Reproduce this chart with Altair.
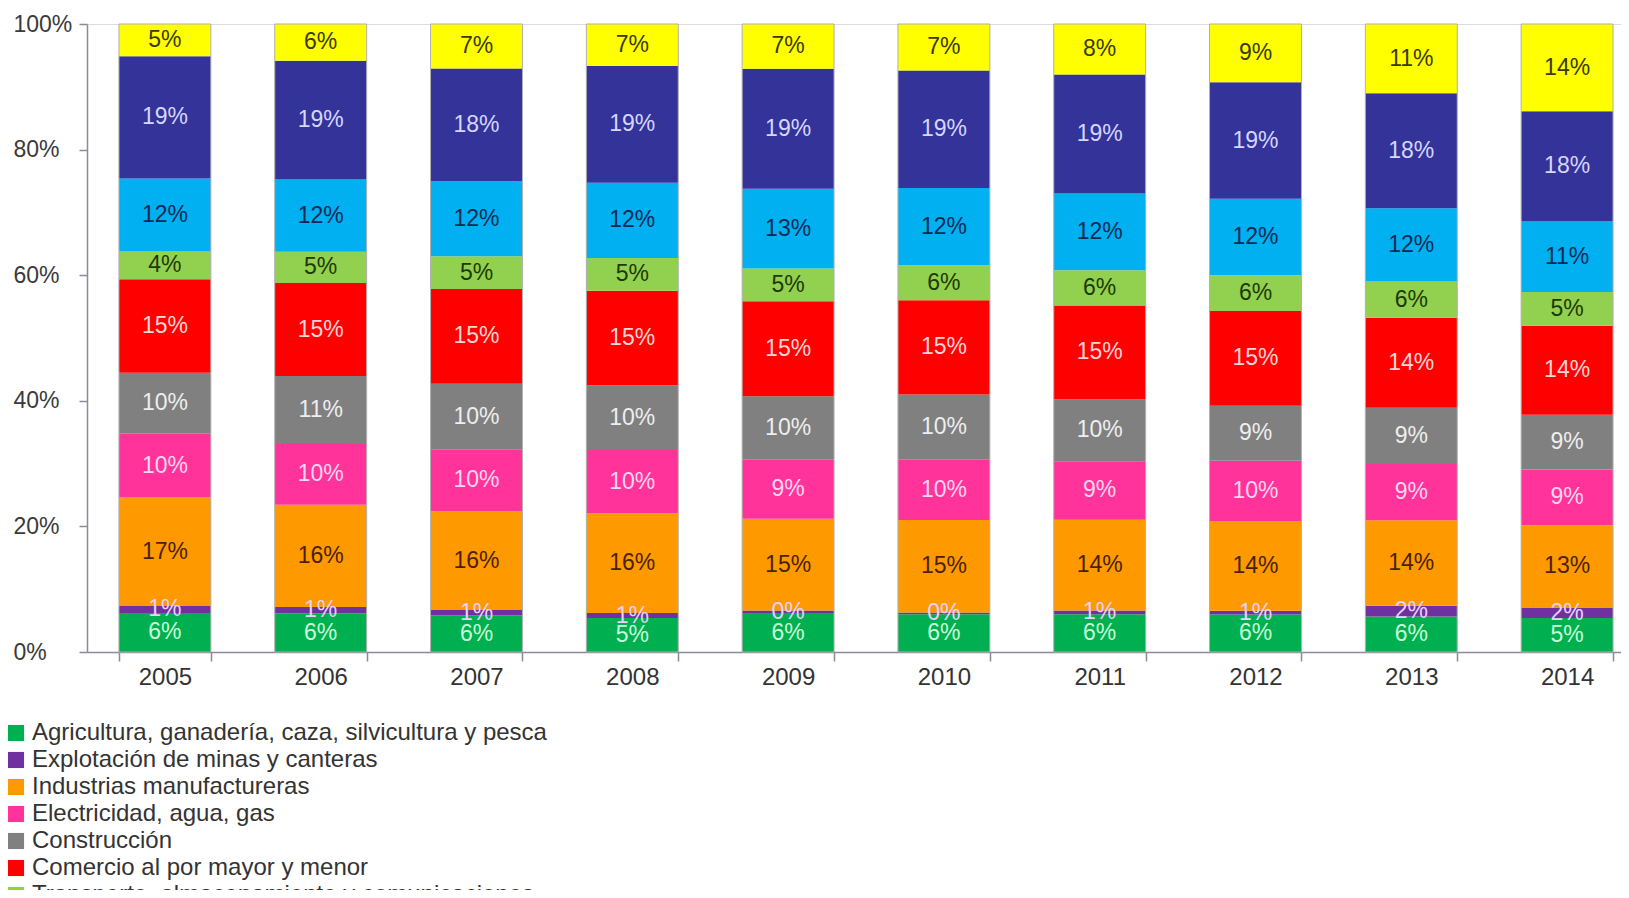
import altair as alt
import pandas as pd

years = ["2005", "2006", "2007", "2008", "2009", "2010", "2011", "2012", "2013", "2014"]

categorias = [
    "Agricultura, ganadería, caza, silvicultura y pesca",
    "Explotación de minas y canteras",
    "Industrias manufactureras",
    "Electricidad, agua, gas",
    "Construcción",
    "Comercio al por mayor y menor",
    "Transporte, almacenamiento y comunicaciones",
    "Establecimientos financieros, seguros, bienes inmuebles y servicios a las empresas",
    "Servicios comunales, sociales y personales",
    "Otros",
]

colores = ["#00b050", "#7030a0", "#ff9900", "#ff3399", "#808080",
           "#ff0000", "#92d050", "#00b0f0", "#333399", "#ffff00"]
colores_texto = ["#c8ffd8", "#e6d2ff", "#4a2200", "#ffd6f0", "#eeeeee",
                 "#ffd6d6", "#1e3a00", "#0a2a55", "#d6d6ff", "#3a3a00"]

agricultura = [6.2, 6.2, 5.8, 5.4, 6.2, 6.0, 6.0, 6.0, 5.7, 5.4]
minas = [1.1, 1.0, 0.9, 0.8, 0.4, 0.3, 0.6, 0.6, 1.7, 1.7]
industrias = [17.2, 16.4, 15.7, 15.9, 14.6, 14.7, 14.4, 14.3, 13.7, 13.1]
electricidad = [10.1, 9.7, 9.9, 10.1, 9.4, 9.6, 9.3, 9.6, 9.0, 8.9]
construccion = [9.7, 10.9, 10.4, 10.3, 10.1, 10.4, 9.8, 8.8, 9.0, 8.7]
comercio = [14.8, 14.9, 15.1, 15.1, 15.1, 15.0, 14.9, 15.1, 14.4, 14.2]
transporte = [4.4, 5.0, 5.2, 5.2, 5.2, 5.6, 5.6, 5.7, 5.8, 5.4]
financieros = [11.6, 11.6, 12.0, 12.0, 12.7, 12.3, 12.2, 12.2, 11.7, 11.2]
servicios = [19.4, 19.0, 17.9, 18.6, 19.1, 18.7, 18.9, 18.6, 18.4, 17.6]
otros = [5.1, 5.9, 7.1, 6.7, 7.1, 7.4, 8.0, 9.3, 11.1, 13.9]

series = [agricultura, minas, industrias, electricidad, construccion,
          comercio, transporte, financieros, servicios, otros]

rows = []
for ci, (cat, vals) in enumerate(zip(categorias, series)):
    for y, v in zip(years, vals):
        rows.append({
            "year": y,
            "cat": cat,
            "orden": ci,
            "value": v,
            "label": f"{round(v)}%",
            "tcolor": colores_texto[ci],
        })
df = pd.DataFrame(rows)

FONT = "Liberation Sans"
AXIS_COLOR = "#8a8a9a"

base = alt.Chart(df).transform_stack(
    stack="value",
    groupby=["year"],
    as_=["y0", "y1"],
    offset="normalize",
    sort=[alt.SortField("orden", order="ascending")],
).transform_calculate(mid="(datum.y0 + datum.y1) / 2")

# the reference's plot runs past the right edge of the picture
xscale = alt.Scale(range=[0, 1558], paddingInner=0.41, paddingOuter=0.205)

xenc = alt.X(
    "year:N",
    sort=years,
    title=None,
    scale=xscale,
    axis=alt.Axis(
        labelAngle=0, labelFont=FONT, labelFontSize=24, labelColor="#333333",
        domainColor=AXIS_COLOR, domainWidth=1.5, tickColor=AXIS_COLOR,
        tickWidth=1.5, tickSize=9, tickBand="extent", labelPadding=4,
    ),
)

yenc = alt.Y(
    "y0:Q",
    title=None,
    scale=alt.Scale(domain=[0, 1], nice=False),
    axis=alt.Axis(
        values=[0, 0.2, 0.4, 0.6, 0.8, 1.0], format=".0%", grid=False,
        labelFont=FONT, labelFontSize=23, labelColor="#3a3a3a",
        labelAlign="left", labelPadding=66, tickSize=8,
        domainColor=AXIS_COLOR, domainWidth=1.5, tickColor=AXIS_COLOR,
        tickWidth=1.5,
    ),
)

bars = base.mark_bar(strokeWidth=0).encode(
    x=xenc,
    y=yenc,
    y2="y1:Q",
    color=alt.Color(
        "cat:N",
        sort=categorias,
        scale=alt.Scale(domain=categorias, range=colores),
        legend=alt.Legend(
            orient="none", legendX=-83, legendY=697, direction="vertical",
            columns=1, title=None, symbolType="square", symbolSize=260,
            symbolStrokeWidth=0, labelFont=FONT, labelFontSize=24,
            labelColor="#333333", rowPadding=3, labelOffset=4, padding=0,
            labelLimit=0,
        ),
    ),
)

outline = base.transform_aggregate(
    lo="min(y0)", hi="max(y1)", groupby=["year"]
).mark_bar(filled=False, stroke="#b0b0b0", strokeWidth=1).encode(
    x=alt.X("year:N", sort=years),
    y=alt.Y("lo:Q"),
    y2="hi:Q",
)

labels = base.mark_text(font=FONT, fontSize=23, baseline="middle", align="center").encode(
    x=alt.X("year:N", sort=years),
    y=alt.Y("mid:Q", stack=None),
    text="label:N",
    fill=alt.Fill("tcolor:N", scale=None, legend=None),
)

chart = alt.layer(bars, outline, labels).properties(
    width=1534, height=628,
    padding={"left": 79, "top": 16, "right": 0, "bottom": 238},
    autosize=alt.AutoSizeParams(type="none"),
).configure_view(stroke=None).configure(background="white")

chart.save("out.html", embed_options={"renderer": "svg", "actions": False})
